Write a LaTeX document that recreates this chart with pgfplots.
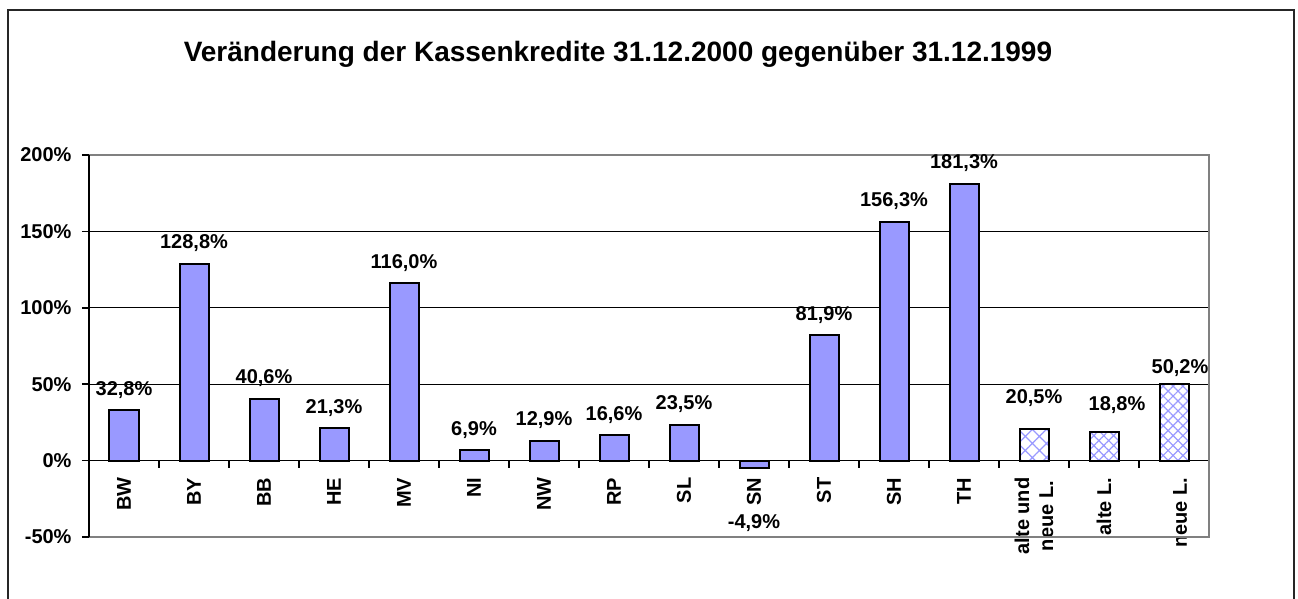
\documentclass[border=0pt]{standalone}
\usepackage{pgfplots}
\pgfplotsset{compat=1.18}
\usepackage{fontspec}
\setmainfont{Liberation Sans}
\usetikzlibrary{patterns.meta}
\definecolor{barblue}{RGB}{153,153,255}
\definecolor{framegray}{RGB}{128,128,128}
\newcommand{\lblfont}{\fontsize{10}{12}\selectfont\bfseries}
\begin{document}
\begin{tikzpicture}
\useasboundingbox (0,0) rectangle (649pt,-299.5pt);
\draw[line width=1pt, black!85] (4pt,-320pt) -- (4pt,-5pt) -- (647pt,-5pt) -- (647pt,-320pt);
\node[anchor=base, font=\fontsize{14}{16}\selectfont\bfseries] at (309pt,-31pt) {Veränderung der Kassenkredite 31.12.2000 gegenüber 31.12.1999};
\begin{axis}[
  at={(44.5pt,-268.5pt)}, anchor=south west,
  scale only axis, width=560pt, height=191pt,
  xmin=0, xmax=16, ymin=-50, ymax=200,
  clip=false,
  axis x line*=middle, axis y line*=left,
  axis line style={black, line width=0.75pt},
  tick align=outside,
  tick style={black, line width=0.75pt},
  major tick length=3.5pt,
  /pgf/number format/assume math mode=true,
  ybar, bar width=14.5pt, bar shift=0pt,
  ytick={-50,0,50,100,150,200},
  yticklabel={\pgfmathprintnumber{\tick}\%},
  yticklabel style={font=\lblfont, xshift=-1.7pt},
  ymajorgrids, grid style={black, line width=0.5pt},
  xtick={0,1,...,16},
  xticklabels={},
  extra x ticks={0.5,1.5,...,15.5},
  extra x tick labels={BW,BY,BB,HE,MV,NI,NW,RP,SL,SN,ST,SH,TH,{alte und\\neue L.},alte L.,{\raisebox{-13pt}{neue L.}}},
  extra x tick style={major tick length=0pt, grid=none,
    xticklabel style={font=\lblfont, yshift=-5pt, rotate=90, anchor=east, align=center}},
  nodes near coords={\pgfmathprintnumber[fixed,fixed zerofill,precision=1,use comma]{\pgfplotspointmeta}\%},
  every node near coord/.append style={font=\lblfont, anchor=base, yshift=7.5pt},
]
\addplot[fill=barblue, draw=black, line width=1pt] coordinates {
  (0.5,32.8) (1.5,128.8) (2.5,40.6) (3.5,21.3) (4.5,116.0) (5.5,6.9)
  (6.5,12.9) (7.5,16.6) (8.5,23.5) (10.5,81.9) (11.5,156.3) (12.5,181.3)};
\addplot[fill=barblue, draw=black, line width=1pt,
  every node near coord/.append style={yshift=-37.5pt}] coordinates {(9.5,-4.9)};
\addplot[draw=black, line width=1pt, pattern={Hatch[angle=45,distance=5pt,line width=0.6pt]}, pattern color=barblue,
  every node near coord/.append style={yshift=5.5pt}] coordinates {(13.5,20.5)};
\addplot[draw=black, line width=1pt, pattern={Hatch[angle=45,distance=3.5pt,line width=0.6pt]}, pattern color=barblue,
  every node near coord/.append style={yshift=3pt, xshift=6.5pt}] coordinates {(14.5,18.8)};
\addplot[draw=black, line width=1pt, pattern={Hatch[angle=45,distance=3.5pt,line width=0.6pt]}, pattern color=barblue,
  every node near coord/.append style={yshift=-2.5pt, xshift=3pt}] coordinates {(15.5,50.2)};
\draw[framegray, line width=1pt] (axis cs:0,200) -- (axis cs:16,200) -- (axis cs:16,-50) -- (axis cs:0,-50);
\draw[black, line width=0.75pt] (axis cs:0,-50) -- (axis cs:0,200);
\end{axis}
\end{tikzpicture}
\end{document}
